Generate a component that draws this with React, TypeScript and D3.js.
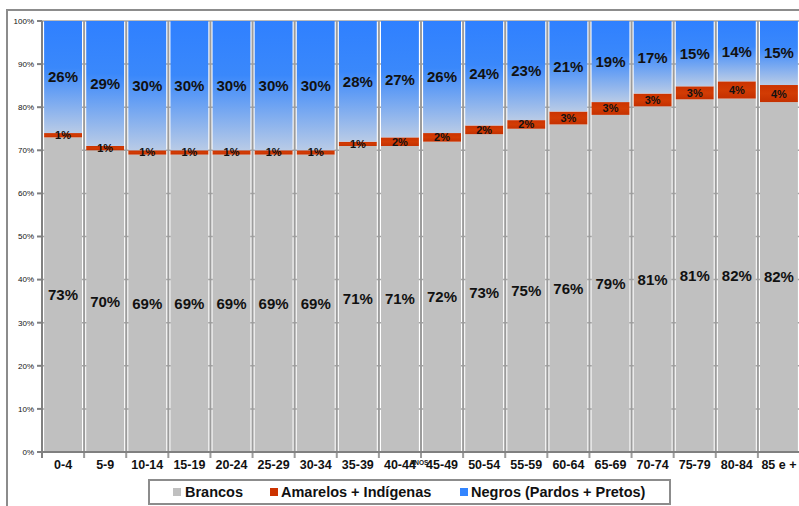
import * as d3 from "d3"

const faixas = ["0-4", "5-9", "10-14", "15-19", "20-24", "25-29", "30-34", "35-39", "40-44", "45-49", "50-54", "55-59", "60-64", "65-69", "70-74", "75-79", "80-84", "85 e +"]
const brancos = [73, 70, 69, 69, 69, 69, 69, 71, 71, 72, 73, 75, 76, 79, 81, 81, 82, 82]
const amarelos = [1, 1, 1, 1, 1, 1, 1, 1, 2, 2, 2, 2, 3, 3, 3, 3, 4, 4]
const negros = [26, 29, 30, 30, 30, 30, 30, 28, 27, 26, 24, 23, 21, 19, 17, 15, 14, 15]
const yTicks = [0, 10, 20, 30, 40, 50, 60, 70, 80, 90, 100]

const W = 799
const H = 506
const left = 42
const right = 800
const top = 21
const bottom = 452

const App = () => {
	const x = d3.scaleBand().domain(faixas).range([left, right]).paddingInner(0.1).paddingOuter(0.05)
	const step = (right - left) / faixas.length
	const y = d3.scaleLinear().domain([0, 100]).range([bottom, top])

	const rows = faixas.map((f, i) => ({ faixa: f, b: brancos[i], a: amarelos[i], n: negros[i] }))
	const stack = d3.stack<any>().keys(["b", "a", "n"]).offset(d3.stackOffsetExpand)
	const series = stack(rows)
	const fills = ["#c0c0c0", "url(#red)", "url(#blue)"]
	const font = "Liberation Sans, Arial, sans-serif"

	return (
		<svg width={W} height={H} style={{ position: "absolute", left: 0, top: 0, background: "#fff" }}>
			<defs>
				<linearGradient id="blue" x1="0" y1="0" x2="0" y2="1">
					<stop offset="0%" stopColor="#2f80ff" />
					<stop offset="42%" stopColor="#3a88fb" />
					<stop offset="100%" stopColor="#b9cbe6" />
				</linearGradient>
				<linearGradient id="red" x1="0" y1="0" x2="0" y2="1">
					<stop offset="0%" stopColor="#cc3300" />
					<stop offset="50%" stopColor="#d23c04" />
					<stop offset="100%" stopColor="#c43000" />
				</linearGradient>
			</defs>
			{/* outer frame */}
			<path d={`M7,${H} V10 H${W}`} fill="none" stroke="#8c8c8c" strokeWidth={2} />

			{/* gridlines */}
			{yTicks.map((t) => (
				<line key={"g" + t} x1={left} x2={right} y1={y(t)} y2={y(t)} stroke="#a6a6a6" strokeWidth={1.5} />
			))}
			{/* category separators */}
			{faixas.map((f, i) => (
				<line key={"s" + f} x1={left + (i + 1) * step} x2={left + (i + 1) * step} y1={top} y2={bottom + 6} stroke="#9c9c9c" strokeWidth={2} />
			))}

			{/* bars */}
			{series.map((s, k) =>
				s.map((d, i) => (
					<rect
						key={k + "-" + i}
						x={x(faixas[i])}
						width={x.bandwidth()}
						y={y(d[1] * 100)}
						height={y(d[0] * 100) - y(d[1] * 100)}
						fill={fills[k]}
					/>
				))
			)}

			{/* value labels */}
			{series.map((s, k) =>
				s.map((d, i) => {
					const vals = [brancos, amarelos, negros][k]
					const cy = (y(d[0] * 100) + y(d[1] * 100)) / 2
					return (
						<text
							key={"l" + k + "-" + i}
							x={(x(faixas[i]) as number) + x.bandwidth() / 2}
							y={cy}
							dy="0.36em"
							textAnchor="middle"
							fontFamily={font}
							fontWeight="bold"
							fontSize={k === 1 ? 11 : 15}
							fill="#111"
						>
							{vals[i]}%
						</text>
					)
				})
			)}

			{/* y axis */}
			<line x1={left} x2={left} y1={top} y2={bottom} stroke="#808080" strokeWidth={2} />
			<line x1={left} x2={right} y1={bottom} y2={bottom} stroke="#808080" strokeWidth={2} />
			{yTicks.map((t) => (
				<g key={"t" + t}>
					<line x1={left - 5} x2={left} y1={y(t)} y2={y(t)} stroke="#808080" strokeWidth={2} />
					<text x={left - 8} y={y(t)} dy="0.35em" textAnchor="end" fontFamily={font} fontSize={8} fill="#111">
						{t}%
					</text>
				</g>
			))}
			<line x1={left} x2={left} y1={bottom} y2={bottom + 6} stroke="#808080" strokeWidth={2} />

			{/* x labels */}
			{faixas.map((f) => (
				<text key={"x" + f} x={(x(f) as number) + x.bandwidth() / 2} y={469} textAnchor="middle" fontFamily={font} fontWeight="bold" fontSize={12.5} fill="#111">
					{f}
				</text>
			))}
			<text x={419} y={465} textAnchor="middle" fontFamily={font} fontWeight="bold" fontSize={6.5} fill="#111">ANOS</text>

			{/* legend */}
			<rect x={149} y={480} width={521} height={24} fill="#fff" stroke="#8c8c8c" strokeWidth={2} />
			<rect x={173} y={488} width={8} height={8} fill="#c0c0c0" />
			<text x={185} y={497} fontFamily={font} fontWeight="bold" fontSize={14.5} fill="#111">Brancos</text>
			<rect x={270} y={488} width={8} height={8} fill="#cc3300" />
			<text x={281} y={497} fontFamily={font} fontWeight="bold" fontSize={14.5} fill="#111">Amarelos + Indígenas</text>
			<rect x={460} y={488} width={8} height={8} fill="#3385ff" />
			<text x={471} y={497} fontFamily={font} fontWeight="bold" fontSize={14.5} fill="#111">Negros (Pardos + Pretos)</text>
		</svg>
	)
}

export default App
